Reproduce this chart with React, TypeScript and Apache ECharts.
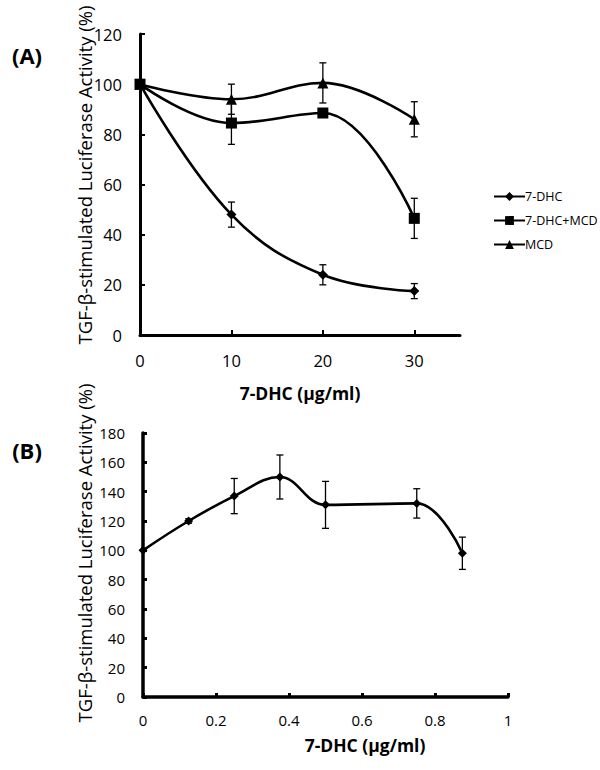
import React, { useEffect, useRef } from "react";
import * as echarts from "echarts";

const xA = [0, 10, 20, 30];
const dhcA = [100, 48, 24, 17.5];
const dhcErrA = [0, 5, 4, 3];
const dhcMcdA = [100, 84.5, 88.5, 46.5];
const dhcMcdErrA = [0, 8.5, 1, 8];
const mcdA = [100, 94, 100.5, 86];
const mcdErrA = [0, 6, 8, 7];

const xB = [0, 0.125, 0.25, 0.375, 0.5, 0.75, 0.875];
const dhcB = [100, 120, 137, 150, 131, 132, 98];
const dhcErrB = [0, 1.5, 12, 15, 16, 10, 11];

const xTicksA = [0, 10, 20, 30];
const seriesNames = ["7-DHC", "7-DHC+MCD", "MCD"];
const yTitle = "TGF-β-stimulated Luciferase Activity (%)";
const xTitle = "7-DHC (μg/ml)";

const FONT = "Open Sans";

function pairs(xs: number[], ys: number[]) {
  return xs.map((x, i) => [x, ys[i]]);
}
function triples(xs: number[], ys: number[], es: number[]) {
  return xs.map((x, i) => [x, ys[i], es[i]]);
}

function errRender(params: any, api: any) {
  const x = api.value(0);
  const y = api.value(1);
  const e = api.value(2);
  if (!e) return null;
  const top = api.coord([x, y + e]);
  const bot = api.coord([x, y - e]);
  const w = 3.5;
  const style = { stroke: "#000", lineWidth: 1.3 };
  return {
    type: "group",
    children: [
      { type: "line", shape: { x1: top[0], y1: top[1], x2: bot[0], y2: bot[1] }, style },
      { type: "line", shape: { x1: top[0] - w, y1: top[1], x2: top[0] + w, y2: top[1] }, style },
      { type: "line", shape: { x1: bot[0] - w, y1: bot[1], x2: bot[0] + w, y2: bot[1] }, style },
    ],
  };
}

export default function App() {
  const ref = useRef<HTMLDivElement>(null);
  useEffect(() => {
    if (!ref.current) return;
    const chart = echarts.init(ref.current, null, { renderer: "svg" });
    const axisLine = { show: true, lineStyle: { color: "#000", width: 3 } };
    const axisTick = { show: true, inside: true, length: 5, lineStyle: { color: "#000", width: 2 } };
    const lbl = { color: "#000", fontSize: 16.5, fontFamily: FONT };
    const lineSeries = (name: string, data: any, symbol: string, size: number, xi: number) => ({
      name,
      type: "line",
      xAxisIndex: xi,
      yAxisIndex: xi,
      data,
      smooth: 0.4,
      symbol,
      symbolSize: size,
      lineStyle: { color: "#000", width: 2.6 },
      itemStyle: { color: "#000" },
      z: 3,
    });
    const errSeries = (data: any, xi: number) => ({
      type: "custom",
      xAxisIndex: xi,
      yAxisIndex: xi,
      data,
      renderItem: errRender,
      z: 4,
      silent: true,
    });
    const bText = (text: string, x: number, y: number, size: number, rot = 0, bold = false) => ({
      type: "text",
      x,
      y,
      rotation: rot,
      style: {
        text,
        fontSize: size,
        fontWeight: bold ? "bold" : "normal",
        fontFamily: FONT,
        fill: "#000",
        textAlign: "center",
        textVerticalAlign: "middle",
      },
    });
    chart.setOption({
      animation: false,
      backgroundColor: "#fff",
      grid: [
        { left: 140, top: 34, width: 320, height: 301 },
        { left: 143, top: 433, width: 365, height: 264 },
      ],
      xAxis: [
        {
          type: "value",
          gridIndex: 0,
          min: 0,
          max: 35,
          interval: 10,
          axisLine,
          axisTick: { ...axisTick, customValues: xTicksA },
          axisLabel: { ...lbl, margin: 17, customValues: xTicksA },
          splitLine: { show: false },
        },
        {
          type: "value",
          gridIndex: 1,
          min: 0,
          max: 1,
          interval: 0.2,
          axisLine: { show: true, lineStyle: { color: "#000", width: 3.5 } },
          axisTick: { ...axisTick, length: 4, lineStyle: { color: "#000", width: 3 } },
          axisLabel: { ...lbl, fontSize: 15, margin: 15 },
          splitLine: { show: false },
        },
      ],
      yAxis: [
        {
          type: "value",
          gridIndex: 0,
          min: 0,
          max: 120,
          interval: 20,
          axisLine,
          axisTick,
          axisLabel: { ...lbl, margin: 18 },
          splitLine: { show: false },
        },
        {
          type: "value",
          gridIndex: 1,
          min: 0,
          max: 180,
          interval: 20,
          axisLine: { show: true, lineStyle: { color: "#000", width: 3.5 } },
          axisTick: { ...axisTick, length: 4, lineStyle: { color: "#000", width: 3 } },
          axisLabel: { ...lbl, fontSize: 15, margin: 18 },
          splitLine: { show: false },
        },
      ],
      legend: {
        orient: "vertical",
        left: 488,
        top: 185,
        itemGap: 11,
        itemWidth: 31,
        itemHeight: 11,
        data: seriesNames,
        textStyle: { color: "#000", fontSize: 12.5, fontFamily: FONT, padding: [0, 0, 0, -5] },
      },
      graphic: [
        bText("(A)", 27, 55, 22, 0, true),
        bText("(B)", 27, 450, 22, 0, true),
        bText(yTitle, 84, 175, 18.5, Math.PI / 2),
        bText(yTitle, 84, 553, 18.5, Math.PI / 2),
        bText(xTitle, 300, 393, 17.5, 0, true),
        bText(xTitle, 365, 745, 17.5, 0, true),
      ],
      series: [
        lineSeries(seriesNames[0], pairs(xA, dhcA), "diamond", 10, 0),
        lineSeries(seriesNames[1], pairs(xA, dhcMcdA), "rect", 11, 0),
        lineSeries(seriesNames[2], pairs(xA, mcdA), "triangle", 11, 0),
        errSeries(triples(xA, dhcA, dhcErrA), 0),
        errSeries(triples(xA, dhcMcdA, dhcMcdErrA), 0),
        errSeries(triples(xA, mcdA, mcdErrA), 0),
        lineSeries("B", pairs(xB, dhcB), "diamond", 9, 1),
        errSeries(triples(xB, dhcB, dhcErrB), 1),
      ],
    });
    return () => chart.dispose();
  }, []);
  return (
    <div
      ref={ref}
      style={{ position: "fixed", left: 0, top: 0, width: 600, height: 770, background: "#fff" }}
    />
  );
}
